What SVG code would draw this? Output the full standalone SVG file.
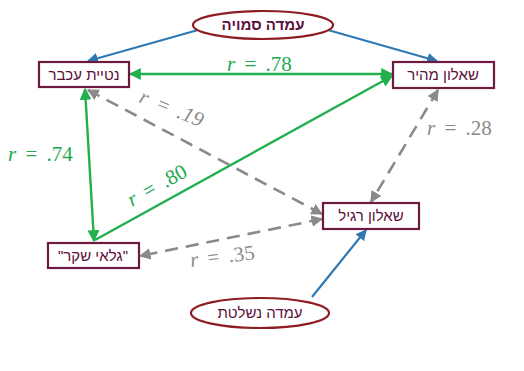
<svg xmlns="http://www.w3.org/2000/svg" width="524" height="371" viewBox="0 0 524 371">
<style>
.box{fill:#fff;stroke:#6e1940;stroke-width:2.2}
.ell{fill:#fff;stroke:#8e1c22;stroke-width:2.2}
.lbl{font-family:"Liberation Sans","DejaVu Sans",sans-serif;font-size:15px;fill:#5b0f3a;text-anchor:middle}
.blue{stroke:#2e78b4;stroke-width:2.2;fill:none}
.green{stroke:#22b04e;stroke-width:2.4;fill:none}
.gray{stroke:#8a8a8a;stroke-width:2.6;fill:none;stroke-dasharray:13 8}
.rg{font-family:"Liberation Serif",serif;font-size:21px;fill:#22a84e;word-spacing:4px}
.rr{font-family:"Liberation Serif",serif;font-size:21px;fill:#8a8a8a;word-spacing:4px}
.it{font-style:italic}
</style>
<defs>
<marker id="ab" viewBox="0 0 10 10" refX="9" refY="5" markerWidth="5" markerHeight="5" orient="auto-start-reverse" markerUnits="strokeWidth"><path d="M0,0 L10,5 L0,10 z" fill="#2e78b4"/></marker>
<marker id="ag" viewBox="0 0 10 10" refX="9" refY="5" markerWidth="5" markerHeight="5" orient="auto-start-reverse" markerUnits="strokeWidth"><path d="M0,0 L10,5 L0,10 z" fill="#22b04e"/></marker>
<marker id="ar" viewBox="0 0 10 10" refX="9" refY="5" markerWidth="4.5" markerHeight="4.5" orient="auto-start-reverse" markerUnits="strokeWidth"><path d="M0,0 L10,5 L0,10 z" fill="#8a8a8a"/></marker>
</defs>
<rect width="524" height="371" fill="#fff"/>
<g id="connectors">
<line class="blue" x1="198" y1="30" x2="88" y2="61" marker-end="url(#ab)"/>
<line class="blue" x1="328" y1="30" x2="437" y2="61" marker-end="url(#ab)"/>
<line class="blue" x1="312" y1="297" x2="366" y2="230" marker-end="url(#ab)"/>
<line class="green" x1="130" y1="74" x2="392" y2="74" marker-start="url(#ag)" marker-end="url(#ag)"/>
<line class="green" x1="85" y1="89" x2="94" y2="241" marker-start="url(#ag)" marker-end="url(#ag)"/>
<line class="green" x1="95" y1="240" x2="392" y2="76" marker-end="url(#ag)"/>
<line class="gray" x1="88" y1="90" x2="322" y2="214" marker-start="url(#ar)" marker-end="url(#ar)"/>
<line class="gray" x1="438" y1="90" x2="371" y2="202" marker-start="url(#ar)" marker-end="url(#ar)"/>
<line class="gray" x1="322" y1="219" x2="140" y2="256" marker-start="url(#ar)" marker-end="url(#ar)"/>
<text class="rg" x="227" y="71"><tspan class="it">r</tspan> = .78</text>
<text class="rg" x="8" y="161"><tspan class="it">r</tspan> = .74</text>
<text class="rg" transform="translate(132,207) rotate(-29)"><tspan class="it">r</tspan> = .80</text>
<text class="rr it" transform="translate(138,102) rotate(22)">r = .19</text>
<text class="rr" x="427" y="135"><tspan class="it">r</tspan> = .28</text>
<text class="rr" transform="translate(191,267) rotate(-7)"><tspan class="it">r</tspan> = .35</text>
</g>
<g id="n-top"><ellipse class="ell" cx="263" cy="25" rx="70" ry="14"/><text class="lbl" x="263" y="30" font-weight="bold">עמדה סמויה</text></g>
<g id="n-netiya"><rect class="box" x="39" y="62" width="90" height="25"/><text class="lbl" x="84" y="80">נטיית עכבר</text></g>
<g id="n-mahir"><rect class="box" x="393" y="62" width="101" height="26"/><text class="lbl" x="443" y="80">שאלון מהיר</text></g>
<g id="n-ragil"><rect class="box" x="323" y="203" width="96" height="26"/><text class="lbl" x="371" y="221">שאלון רגיל</text></g>
<g id="n-gala"><rect class="box" x="48" y="243" width="91" height="25"/><text class="lbl" x="93" y="261">"גלאי שקר"</text></g>
<g id="n-bottom"><ellipse class="ell" cx="260" cy="313" rx="69" ry="15"/><text class="lbl" x="260" y="318">עמדה נשלטת</text></g>
</svg>
